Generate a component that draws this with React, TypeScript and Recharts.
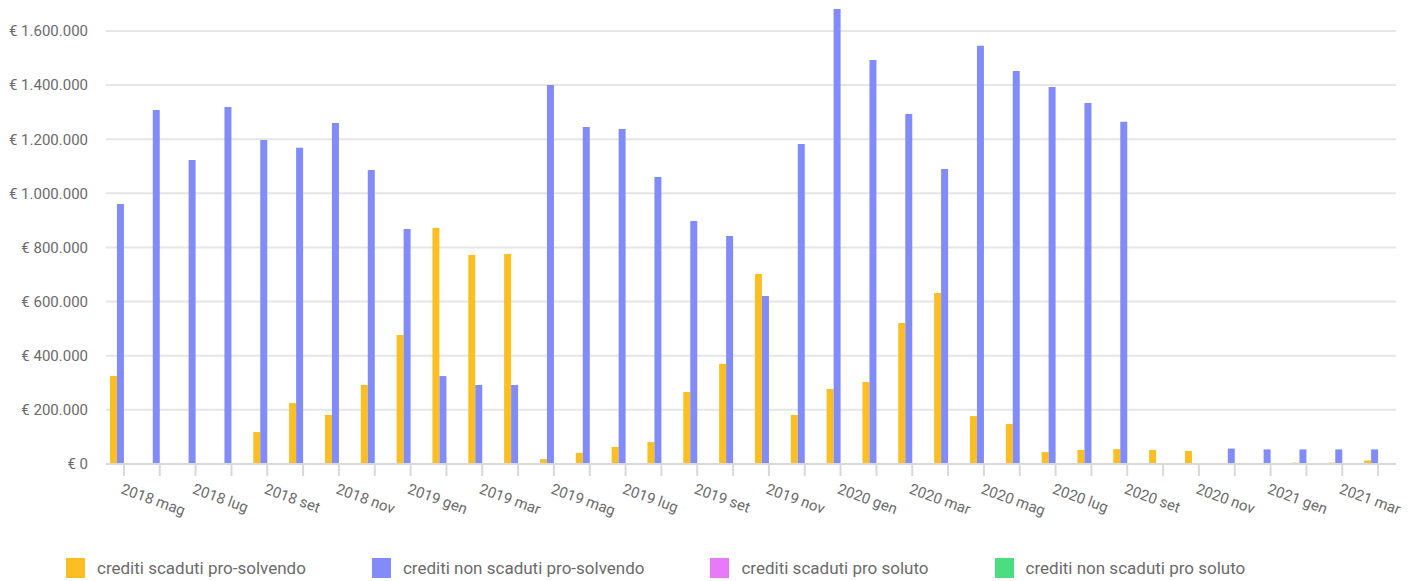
import { BarChart, Bar, XAxis, YAxis, CartesianGrid, Legend } from 'recharts';

// Monthly credit balances, May 2018 - April 2021
const months = [
    '2018 mag', '2018 giu', '2018 lug', '2018 ago', '2018 set', '2018 ott', '2018 nov', '2018 dic',
    '2019 gen', '2019 feb', '2019 mar', '2019 apr', '2019 mag', '2019 giu', '2019 lug', '2019 ago',
    '2019 set', '2019 ott', '2019 nov', '2019 dic', '2020 gen', '2020 feb', '2020 mar', '2020 apr',
    '2020 mag', '2020 giu', '2020 lug', '2020 ago', '2020 set', '2020 ott', '2020 nov', '2020 dic',
    '2021 gen', '2021 feb', '2021 mar', '2021 apr',
];

const scadutiProSolvendo = [
    325000, 0, 0, 0, 118000, 225000, 181000, 292000,
    477000, 872000, 772000, 776000, 18000, 41000, 63000, 81000,
    266000, 370000, 702000, 181000, 277000, 303000, 521000, 632000,
    177000, 148000, 44000, 52000, 55000, 52000, 48000, 0,
    0, 5000, 5000, 13000,
];

const nonScadutiProSolvendo = [
    961000, 1308000, 1123000, 1319000, 1197000, 1168000, 1260000, 1086000,
    868000, 325000, 292000, 292000, 1400000, 1245000, 1238000, 1060000,
    898000, 842000, 621000, 1182000, 1681000, 1493000, 1293000, 1090000,
    1545000, 1452000, 1393000, 1334000, 1264000, 0, 0, 57000,
    54000, 54000, 54000, 54000,
];

const scadutiProSoluto = [
    0, 0, 0, 0, 0, 0, 0, 0, 0, 0, 0, 0, 0, 0, 0, 0, 0, 0,
    0, 0, 0, 0, 0, 0, 0, 0, 0, 0, 0, 0, 0, 0, 0, 0, 0, 0,
];

const nonScadutiProSoluto = [
    0, 0, 0, 0, 0, 0, 0, 0, 0, 0, 0, 0, 0, 0, 0, 0, 0, 0,
    0, 0, 0, 0, 0, 0, 0, 0, 0, 0, 0, 0, 0, 0, 0, 0, 0, 0,
];

const yTicks = [0, 200000, 400000, 600000, 800000, 1000000, 1200000, 1400000, 1600000];

const SERIES = [
    { key: 'scadutiProSolvendo', name: 'crediti scaduti pro-solvendo', color: '#FBBF24' },
    { key: 'nonScadutiProSolvendo', name: 'crediti non scaduti pro-solvendo', color: '#818CF8' },
    { key: 'scadutiProSoluto', name: 'crediti scaduti pro soluto', color: '#E879F9' },
    { key: 'nonScadutiProSoluto', name: 'crediti non scaduti pro soluto', color: '#4ADE80' },
];

const data = months.map((month, i) => ({
    month,
    scadutiProSolvendo: scadutiProSolvendo[i],
    nonScadutiProSolvendo: nonScadutiProSolvendo[i],
    scadutiProSoluto: scadutiProSoluto[i],
    nonScadutiProSoluto: nonScadutiProSoluto[i],
}));

const yMax = Math.max(...scadutiProSolvendo, ...nonScadutiProSolvendo);

const FONT = 'Roboto, sans-serif';
const TEXT = '#6b6b6b';

const formatEuro = (value: number) => '€ ' + String(value).replace(/\B(?=(\d{3})+(?!\d))/g, '.');

// only every other month gets a label, the tick line is drawn for all
function MonthTick(props: any) {
    const { x, y, payload } = props;
    const index = payload?.index ?? props.index;
    if (index % 2 !== 0) return <g />;
    const tx = x - 4;
    const ty = y + 15;
    return (
        <text
            x={tx}
            y={ty}
            transform={`rotate(20, ${tx}, ${ty})`}
            textAnchor="start"
            fill={TEXT}
            fontSize={15}
            fontFamily={FONT}
        >
            {payload.value}
        </text>
    );
}

const renderLegend = () => (
    <div
        style={{
            height: 40,
            boxSizing: 'border-box',
            paddingTop: 17,
            paddingLeft: 66,
            display: 'flex',
            fontFamily: FONT,
            fontSize: 17,
            color: TEXT,
        }}
    >
        {SERIES.map((s) => (
            <div key={s.key} style={{ display: 'flex', alignItems: 'center', height: 20, marginRight: 66 }}>
                <span style={{ display: 'inline-block', width: 19, height: 20, background: s.color, marginRight: 12 }} />
                <span style={{ whiteSpace: 'nowrap' }}>{s.name}</span>
            </div>
        ))}
    </div>
);

export default function App() {
    return (
        <div style={{ width: 1414, height: 581, background: '#fff' }}>
            <style>{'body{margin:0}'}</style>
            <BarChart
                width={1414}
                height={581}
                data={data}
                margin={{ top: 9, right: 18, left: 0, bottom: 0 }}
                barCategoryGap="11%"
                barGap={0}
            >
                <CartesianGrid vertical={false} horizontalValues={yTicks} stroke="#e6e6e6" strokeWidth={2} />
                <XAxis
                    dataKey="month"
                    interval={0}
                    height={77}
                    tick={<MonthTick />}
                    tickSize={12}
                    axisLine={{ stroke: '#d9d9d9', strokeWidth: 2 }}
                    tickLine={{ stroke: '#d9d9d9', strokeWidth: 2 }}
                />
                <YAxis
                    width={106}
                    domain={[0, yMax]}
                    allowDataOverflow
                    ticks={yTicks}
                    tickFormatter={formatEuro}
                    axisLine={false}
                    tickLine={false}
                    tickSize={6}
                    tickMargin={12}
                    tick={{ fill: TEXT, fontSize: 15, fontFamily: FONT }}
                />
                <Legend verticalAlign="bottom" align="left" content={renderLegend} />
                {SERIES.map((s) => (
                    <Bar key={s.key} dataKey={s.key} name={s.name} fill={s.color} isAnimationActive={false} />
                ))}
            </BarChart>
        </div>
    );
}
